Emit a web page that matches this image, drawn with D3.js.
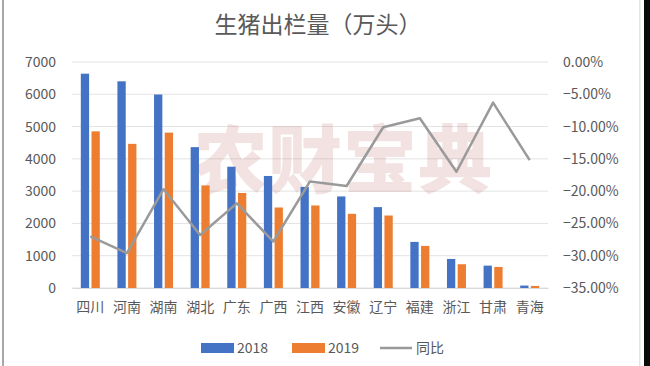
<!DOCTYPE html>
<html><head><meta charset="utf-8">
<script src="https://cdn.jsdelivr.net/npm/d3@7/dist/d3.min.js"></script>
<style>html,body{margin:0;padding:0;background:#fff;}svg{display:block;}</style>
</head><body>
<script>
const categories = ["四川","河南","湖南","湖北","广东","广西","江西","安徽","辽宁","福建","浙江","甘肃","青海"];
const values2018 = [6638, 6402, 5993, 4363, 3757, 3470, 3130, 2836, 2505, 1428, 900, 693, 75];
const values2019 = [4852, 4465, 4813, 3177, 2943, 2494, 2556, 2298, 2245, 1304, 736, 652, 64];
const yoy = [-27.0, -29.6, -19.7, -26.8, -21.9, -27.8, -18.5, -19.2, -10.1, -8.7, -17.0, -6.3, -15.2];
const leftTicks = [0,1000,2000,3000,4000,5000,6000,7000];
const rightTicks = [0,-5,-10,-15,-20,-25,-30,-35];
const seriesNames = ["2018","2019","同比"];

(function(){
const W = 650, H = 366;
const svg = d3.select("body").append("svg").attr("width", W).attr("height", H);
const font = "'Noto Sans CJK SC','Noto Sans',sans-serif";
const txt = "#595959";

// frame edges
svg.append("rect").attr("x",2).attr("y",0).attr("width",2).attr("height",H).attr("fill","#a8a8a8");
svg.append("rect").attr("x",639).attr("y",0).attr("width",1.5).attr("height",H).attr("fill","#e4e4e4");
svg.append("rect").attr("x",644).attr("y",0).attr("width",6).attr("height",H).attr("fill","#0a0a0a");

const pL = 72, pR = 548, pT = 62, pB = 288;
const x = d3.scaleBand().domain(categories).range([pL, pR]).padding(0);
const y = d3.scaleLinear().domain([0, 7000]).range([pB, pT]);
const y2 = d3.scaleLinear().domain([-35, 0]).range([pB, pT]);

// gridlines
svg.append("g").selectAll("line").data(leftTicks).join("line")
  .attr("x1", pL).attr("x2", pR)
  .attr("y1", d => y(d)).attr("y2", d => y(d))
  .attr("stroke", "#e3e3e3").attr("stroke-width", 1);

// watermark
svg.append("text").attr("x", 343).attr("y", 187).attr("text-anchor","middle")
  .attr("font-family", font).attr("font-weight", 900).attr("font-size", 74)
  .attr("fill", "#c27070").attr("fill-opacity", 0.2).attr("letter-spacing", 1)
  .text("农财宝典");

// axes
const axL = svg.append("g").attr("transform", `translate(${pL},0)`)
  .call(d3.axisLeft(y).tickValues(leftTicks).tickSize(0).tickPadding(16).tickFormat(d3.format("d")));
axL.select(".domain").remove();
axL.selectAll("text").attr("font-family", font).attr("font-size", 14).attr("fill", txt);

const axR = svg.append("g").attr("transform", `translate(${pR},0)`)
  .call(d3.axisRight(y2).tickValues(rightTicks).tickSize(0).tickPadding(15).tickFormat(d => d3.format(".2f")(d) + "%"));
axR.select(".domain").remove();
axR.selectAll("text").attr("font-family", font).attr("font-size", 14).attr("fill", txt);

const axB = svg.append("g").attr("transform", `translate(0,${pB})`)
  .call(d3.axisBottom(x).tickSize(0).tickPadding(14));
axB.select(".domain").attr("stroke", "#d9d9d9");
axB.selectAll("text").attr("font-family", font).attr("font-size", 14).attr("fill", txt);

// bars
const bw = 8.3, gap = 2.4;
const colors = ["#4472C4", "#ED7D31"];
[values2018, values2019].forEach((vals, si) => {
  svg.append("g").selectAll("rect").data(categories).join("rect")
    .attr("x", (c) => x(c) + x.bandwidth()/2 - bw - gap/2 + si*(bw+gap))
    .attr("y", (c, i) => y(vals[i]))
    .attr("width", bw)
    .attr("height", (c, i) => pB - y(vals[i]))
    .attr("fill", colors[si]);
});

// line
const line = d3.line().x((d,i) => x(categories[i]) + x.bandwidth()/2).y(d => y2(d));
svg.append("path").datum(yoy).attr("d", line)
  .attr("fill","none").attr("stroke","#9a9a9a").attr("stroke-width",2.5).attr("stroke-linejoin","round");

// title
svg.append("text").attr("x", 318).attr("y", 33).attr("text-anchor","middle")
  .attr("font-family", font).attr("font-size", 23).attr("fill", txt)
  .text("生猪出栏量（万头）");

// legend
const lg = svg.append("g").attr("font-family", font).attr("font-size", 14).attr("fill", txt);
const items = [{x:201, c:colors[0], t:seriesNames[0], type:"rect"},
               {x:292, c:colors[1], t:seriesNames[1], type:"rect"},
               {x:380, c:"#9a9a9a", t:seriesNames[2], type:"line"}];
items.forEach(it => {
  if (it.type === "rect") {
    lg.append("rect").attr("x", it.x).attr("y", 343).attr("width", 33).attr("height", 10).attr("fill", it.c);
  } else {
    lg.append("line").attr("x1", it.x).attr("x2", it.x+32).attr("y1", 348).attr("y2", 348).attr("stroke", it.c).attr("stroke-width", 2.5);
  }
  lg.append("text").attr("x", it.x + 36).attr("y", 353).text(it.t);
});
})();
</script>
</body></html>
